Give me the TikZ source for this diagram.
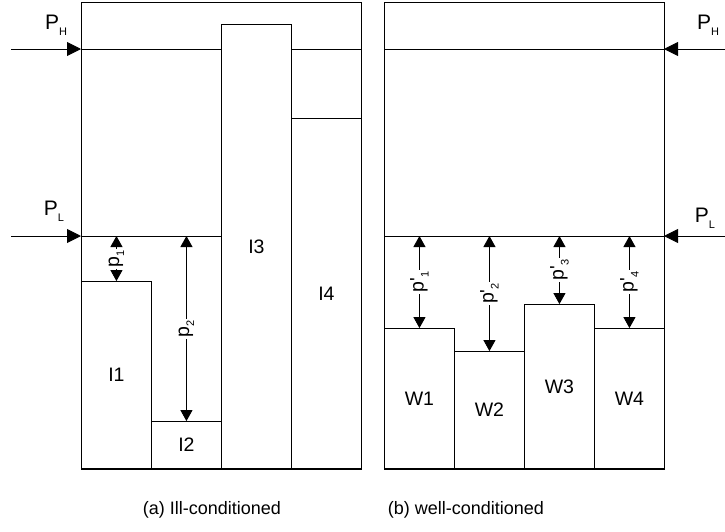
\documentclass[tikz,border=0pt]{standalone}
\usepackage{fontspec}
\setmainfont{Liberation Sans}
\usetikzlibrary{positioning,arrows.meta}

% small lowered index, as in P_H or p_1
\newcommand{\lowsub}[2][5pt]{\raisebox{-#1}{\fontsize{11}{11}\selectfont #2}}

\begin{document}
\begin{tikzpicture}[x=1pt,y=-1pt,
  every node/.style={align=center,font=\fontsize{19.5}{20}\selectfont},
  frame/.style={draw,line width=0.9pt,inner sep=0pt,minimum width=280pt,minimum height=467pt},
  blk/.style={draw,fill=white,line width=0.9pt,inner sep=0pt,minimum width=70pt,anchor=south west},
  level/.style={line width=0.9pt},
  feed/.style={line width=0.9pt,-{Triangle[length=14pt,width=14pt]}},
  gap/.style={line width=0.9pt,{Triangle[length=11pt,width=12pt]}-{Triangle[length=11pt,width=12pt]}},
  gaplbl/.style={fill=white,rotate=90,inner sep=1.5pt},
  plbl/.style={font=\fontsize{21}{21}\selectfont},
  captxt/.style={font=\fontsize{18}{18}\selectfont}]
  \useasboundingbox (0,0) rectangle (725,531);

  % (a) ill-conditioned: frame and the two levels
  \node[frame] (fa) at (221,235.5) {};
  \coordinate (ha) at (81,49);
  \coordinate (la) at (81,236);
  \coordinate (hain) at (11,49);
  \coordinate (lain) at (11,236);
  \draw[level] (ha) -- (ha -| fa.east);
  \draw[level] (la) -- (la -| fa.east);
  \draw[feed] (hain) -- (ha);
  \draw[feed] (lain) -- (la);
  \node[plbl] (PHa) at (56,25) {P\lowsub[6pt]{H}};
  \node[plbl] (PLa) at (54,211) {P\lowsub[6pt]{L}};

  \node[blk,minimum height=187pt] (I1) at (81,469) {I1};
  \node[blk,minimum height=47pt] (I2) at (151,469) {I2};
  \node[blk,minimum height=444pt] (I3) at (221,469) {I3};
  \node[blk,minimum height=350pt] (I4) at (291,469) {I4};

  \draw[gap] (I1.north |- la) -- (I1.north) node[gaplbl,midway] (p1) {p\lowsub{1}};
  \draw[gap] (I2.north |- la) -- (I2.north) node[gaplbl,midway] (p2) {p\lowsub{2}};

  % (b) well-conditioned
  \node[frame] (fb) at (524,235.5) {};
  \coordinate (hb) at (664,49);
  \coordinate (lb) at (664,236);
  \coordinate (hbin) at (725,49);
  \coordinate (lbin) at (725,236);
  \draw[level] (hb) -- (hb -| fb.west);
  \draw[level] (lb) -- (lb -| fb.west);
  \draw[feed] (hbin) -- (hb);
  \draw[feed] (lbin) -- (lb);
  \node[plbl] (PHb) at (708,25) {P\lowsub[6pt]{H}};
  \node[plbl] (PLb) at (705,218) {P\lowsub[6pt]{L}};

  \node[blk,minimum height=140pt] (W1) at (384,469) {W1};
  \node[blk,minimum height=117pt] (W2) at (454,469) {W2};
  \node[blk,minimum height=164pt] (W3) at (524,469) {W3};
  \node[blk,minimum height=140pt] (W4) at (594,469) {W4};

  \draw[gap] (W1.north |- lb) -- (W1.north) node[gaplbl,midway] (q1) {p\textquotesingle\lowsub{1}};
  \draw[gap] (W2.north |- lb) -- (W2.north) node[gaplbl,midway] (q2) {p\textquotesingle\lowsub{2}};
  \draw[gap] (W3.north |- lb) -- (W3.north) node[gaplbl,midway] (q3) {p\textquotesingle\lowsub{3}};
  \draw[gap] (W4.north |- lb) -- (W4.north) node[gaplbl,midway] (q4) {p\textquotesingle\lowsub{4}};

  % captions
  \node[captxt] (capa) at (212,510) {(a) Ill-conditioned};
  \node[captxt] (capb) at (466,510) {(b) well-conditioned};
\end{tikzpicture}
\end{document}
